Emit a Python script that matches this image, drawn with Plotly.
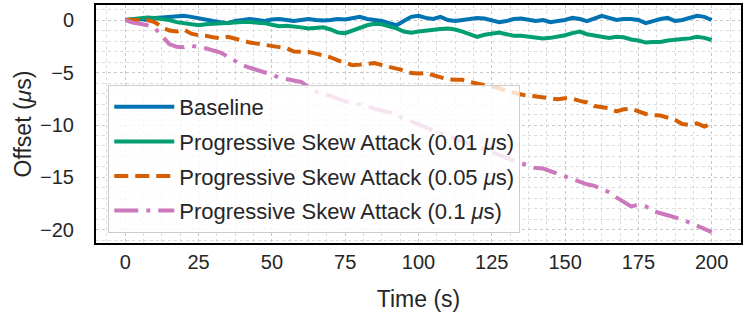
import plotly.graph_objects as go

time_s = [i * 2.5 for i in range(81)]

baseline = [0, 0.05, 0.1, 0.0, 0.2, 0.25, 0.3, 0.35, 0.4, 0.3, 0.15, 0.0, -0.1, -0.2, -0.3, -0.1,
            0.0, 0.1, 0.0, -0.1, 0.05, 0.1, 0.0, -0.1, 0.0, 0.1, 0.0, -0.05, 0.0, 0.1, 0.05, 0.2,
            0.3, 0.1, 0.0, -0.1, -0.3, -0.5, -0.1, 0.3, 0.4, 0.2, 0.1, 0.3, 0.0, -0.1, 0.0, 0.1,
            0.2, 0.15, 0.0, -0.2, -0.1, 0.1, 0.15, 0.0, -0.1, 0.0, -0.2, -0.1, 0.0, 0.2, 0.1, -0.1,
            0.2, 0.4, 0.2, 0.0, 0.1, 0.1, 0.0, -0.3, -0.1, 0.1, 0.2, -0.1, 0.0, 0.2, 0.4, 0.3, 0.0]

skew_001 = [0, 0.1, 0.2, 0.25, 0.2, 0.1, 0.0, -0.2, -0.3, -0.4, -0.5, -0.4, -0.35, -0.3, -0.3, -0.25,
            -0.2, -0.2, -0.25, -0.3, -0.45, -0.6, -0.55, -0.6, -0.7, -0.8, -0.75, -0.7, -0.9, -1.2, -1.25, -1.0,
            -0.7, -0.5, -0.35, -0.4, -0.6, -0.8, -1.1, -1.2, -1.1, -1.0, -0.9, -0.85, -0.8, -0.9, -1.1, -1.4,
            -1.6, -1.4, -1.3, -1.2, -1.35, -1.5, -1.5, -1.6, -1.7, -1.75, -1.7, -1.6, -1.45, -1.25, -1.1, -1.35,
            -1.5, -1.6, -1.7, -1.6, -1.65, -1.85, -1.95, -2.15, -2.1, -2.1, -1.95, -1.85, -1.8, -1.75, -1.6, -1.7, -1.9]

skew_005 = [0, 0.0, 0.05, 0.0, -0.2, -0.7, -1.0, -1.1, -0.9, -1.3, -1.45, -1.5, -1.65, -1.75, -1.6, -1.8,
            -2.0, -2.15, -2.25, -2.35, -2.45, -2.55, -2.7, -3.0, -3.0, -3.05, -3.2, -3.35, -3.55, -3.85, -4.05, -4.3,
            -4.25, -4.15, -4.1, -4.3, -4.45, -4.6, -4.8, -5.05, -5.1, -5.05, -5.25, -5.45, -5.65, -5.7, -5.7, -5.9,
            -6.05, -6.2, -6.35, -6.5, -6.75, -6.95, -7.1, -7.2, -7.3, -7.35, -7.45, -7.55, -7.45, -7.5, -7.7, -7.85,
            -8.2, -8.3, -8.4, -8.7, -8.5, -8.45, -8.7, -8.95, -9.05, -9.1, -9.3, -9.5, -9.9, -10.0, -9.85, -10.15, -9.85]

skew_01 = [0, -0.25, -0.35, -0.5, -0.75, -1.6, -2.3, -2.55, -2.6, -2.45, -2.55, -2.7, -2.9, -3.1, -3.5, -3.95,
           -4.3, -4.55, -4.75, -4.9, -5.2, -5.5, -5.65, -5.75, -5.9, -6.4, -6.8, -7.0, -7.25, -7.5, -7.75, -7.9,
           -8.05, -8.2, -8.45, -8.6, -8.8, -9.1, -9.4, -9.7, -9.95, -10.2, -10.5, -10.8, -11.05, -11.3, -11.5, -11.75,
           -12.0, -12.3, -12.55, -12.8, -13.1, -13.4, -13.65, -13.9, -14.1, -14.15, -14.4, -14.7, -15.0, -15.25, -15.45, -15.65,
           -15.8, -16.1, -16.4, -16.9, -17.3, -17.75, -17.6, -17.75, -18.2, -18.45, -18.6, -18.8, -19.0, -19.3, -19.6, -19.9, -20.2]

series_names = ["Baseline",
                "Progressive Skew Attack (0.01 <i>μ</i>s)",
                "Progressive Skew Attack (0.05 <i>μ</i>s)",
                "Progressive Skew Attack (0.1 <i>μ</i>s)"]
series_values = [baseline, skew_001, skew_005, skew_01]
colors = ["#0173B2", "#029E73", "#D55E00", "#CC78BC"]
dashes = ["solid", "solid", "14px,7px", "24px,8px,4px,8px"]

x_ticks = [0, 25, 50, 75, 100, 125, 150, 175, 200]
y_ticks = [0, -5, -10, -15, -20]

FONT = "Liberation Sans, Arial, sans-serif"
TXT = "#262626"

fig = go.Figure()
for i, (name, vals, c, d) in enumerate(zip(series_names, series_values, colors, dashes)):
    fig.add_trace(go.Scatter(x=time_s, y=vals, mode="lines", name=name, legendgroup=f"g{i}",
                             line=dict(color=c, width=4, dash=d)))

grid_major = "#c8c8c8"
grid_minor = "#dcdcdc"

fig.update_layout(
    width=746, height=318,
    margin=dict(l=96, r=5, t=5, b=75),
    paper_bgcolor="white", plot_bgcolor="white",
    font=dict(family=FONT, size=20, color=TXT),
    showlegend=True,
    legend=dict(x=0.019, y=0.042, xanchor="left", yanchor="bottom",
                bgcolor="rgba(255,255,255,0.8)", bordercolor="#cccccc", borderwidth=1,
                traceorder="grouped", tracegroupgap=3, itemwidth=60,
                font=dict(family=FONT, size=22, color=TXT)),
)
fig.update_xaxes(
    range=[-10, 210], tickvals=x_ticks, ticktext=[str(v) for v in x_ticks],
    title=dict(text="Time (s)", font=dict(size=23, color=TXT), standoff=19),
    automargin=False,
    showline=True, linecolor="black", linewidth=2, mirror=True,
    showgrid=True, gridcolor=grid_major, griddash="dot", gridwidth=1,
    ticks="", ticklen=0, ticklabelstandoff=0, zeroline=False,
    tickfont=dict(size=20, color=TXT),
    minor=dict(dtick=6.25, tick0=0, showgrid=True, gridcolor=grid_minor, griddash="dot", gridwidth=1),
)
fig.update_yaxes(
    range=[-21.24, 1.43], tickvals=y_ticks, ticktext=[str(v).replace("-", "−") for v in y_ticks],
    title=dict(text="Offset (<i>μ</i>s)", font=dict(size=23, color=TXT), standoff=2),
    automargin=False,
    showline=True, linecolor="black", linewidth=2, mirror=True,
    showgrid=True, gridcolor=grid_major, griddash="dot", gridwidth=1,
    ticks="", ticklen=0, ticklabelstandoff=16, zeroline=False,
    tickfont=dict(size=20, color=TXT),
    minor=dict(dtick=1, tick0=0, showgrid=True, gridcolor=grid_minor, griddash="dot", gridwidth=1),
)

fig.write_html("out.html", config={"displayModeBar": False},
               post_script="document.body.style.margin='0';")
